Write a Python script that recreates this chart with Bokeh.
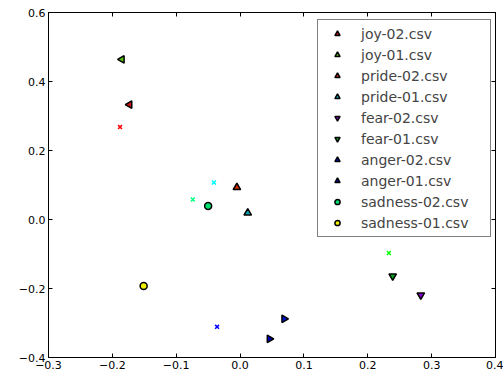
import math
from bokeh.plotting import figure
from bokeh.models import FixedTicker, LinearAxis, Legend, LegendItem, Range1d
from bokeh.embed import file_html
from bokeh.resources import INLINE

# ---- data ----
names = ["joy-02.csv", "joy-01.csv", "pride-02.csv", "pride-01.csv", "fear-02.csv",
         "fear-01.csv", "anger-02.csv", "anger-01.csv", "sadness-02.csv", "sadness-01.csv"]
xs = [-0.173, -0.185, -0.005, 0.012, 0.283, 0.239, 0.069, 0.046, -0.050, -0.151]
ys = [0.333, 0.464, 0.093, 0.019, -0.219, -0.164, -0.288, -0.346, 0.039, -0.193]
markers = ["triangle", "triangle", "triangle", "triangle", "inverted_triangle",
           "inverted_triangle", "triangle", "triangle", "circle", "circle"]
angles = [math.pi / 2, math.pi / 2, 0, 0, 0, 0, -math.pi / 2, -math.pi / 2, 0, 0]
colors = ["#cc1010", "#55c010", "#d02a00", "#00a8b0", "#8a00d0",
          "#00a020", "#0010d0", "#0000b0", "#00e070", "#f0f000"]

cx = [-0.188, -0.041, -0.074, -0.036, 0.233]
cy = [0.268, 0.107, 0.058, -0.311, -0.097]
ccolors = ["#ff0000", "#00ffff", "#00ff80", "#0000ff", "#00ff00"]

xticks = [-0.3, -0.2, -0.1, 0.0, 0.1, 0.2, 0.3, 0.4]
xlabels = ["\u22120.3", "\u22120.2", "\u22120.1", "0.0", "0.1", "0.2", "0.3", "0.4"]
yticks = [-0.4, -0.2, 0.0, 0.2, 0.4, 0.6]
ylabels = ["\u22120.4", "\u22120.2", "0.0", "0.2", "0.4", "0.6"]

FONT = "DejaVu Sans"

p = figure(width=503, height=375, output_backend="svg", toolbar_location=None,
           x_range=Range1d(-0.3, 0.4), y_range=Range1d(-0.4, 0.6),
           x_axis_location=None, y_axis_location=None,
           min_border_left=48, min_border_right=8, min_border_top=12, min_border_bottom=18)
p.grid.visible = False
p.outline_line_color = "black"
p.outline_line_width = 1
p.background_fill_color = "white"
p.border_fill_color = "white"


def make_axis(ticks, labels, show):
    ax = LinearAxis(ticker=FixedTicker(ticks=ticks))
    ax.major_tick_in = 4
    ax.major_tick_out = 0
    ax.minor_tick_line_color = None
    ax.axis_line_color = "black"
    ax.major_tick_line_color = "black"
    ax.major_label_text_font = FONT
    ax.major_label_text_font_size = "11px"
    ax.major_label_text_color = "black"
    if show:
        ax.major_label_overrides = {t: l for t, l in zip(ticks, labels)}
        ax.major_label_standoff = 3
    else:
        ax.major_label_overrides = {t: "" for t in ticks}
        ax.major_label_standoff = 0
    return ax


p.add_layout(make_axis(xticks, xlabels, True), "below")
p.add_layout(make_axis(yticks, ylabels, True), "left")
p.add_layout(make_axis(xticks, xlabels, False), "above")
p.add_layout(make_axis(yticks, ylabels, False), "right")

items = []
for i in range(len(names)):
    r = p.scatter(x=[xs[i]], y=[ys[i]], marker=markers[i], angle=angles[i],
                  size=7.5 if markers[i] != "circle" else 7,
                  fill_color=colors[i], line_color="black", line_width=1.5)
    items.append(LegendItem(label=names[i], renderers=[r]))

p.scatter(x=cx, y=cy, marker="x", size=5.5, line_color=ccolors, line_width=1.5)

legend = Legend(items=items, location="top_right")
legend.label_text_font = FONT
legend.label_text_font_size = "14px"
legend.glyph_width = 28
legend.glyph_height = 13
legend.label_height = 17
legend.label_width = 124
legend.label_standoff = 10
legend.spacing = 4
legend.padding = 5
legend.margin = 0
legend.location = (269, 120)
legend.border_line_color = "black"
legend.border_line_width = 1
legend.background_fill_alpha = 1
p.add_layout(legend, "center")

open("out.html", "w").write(file_html(p, INLINE))
